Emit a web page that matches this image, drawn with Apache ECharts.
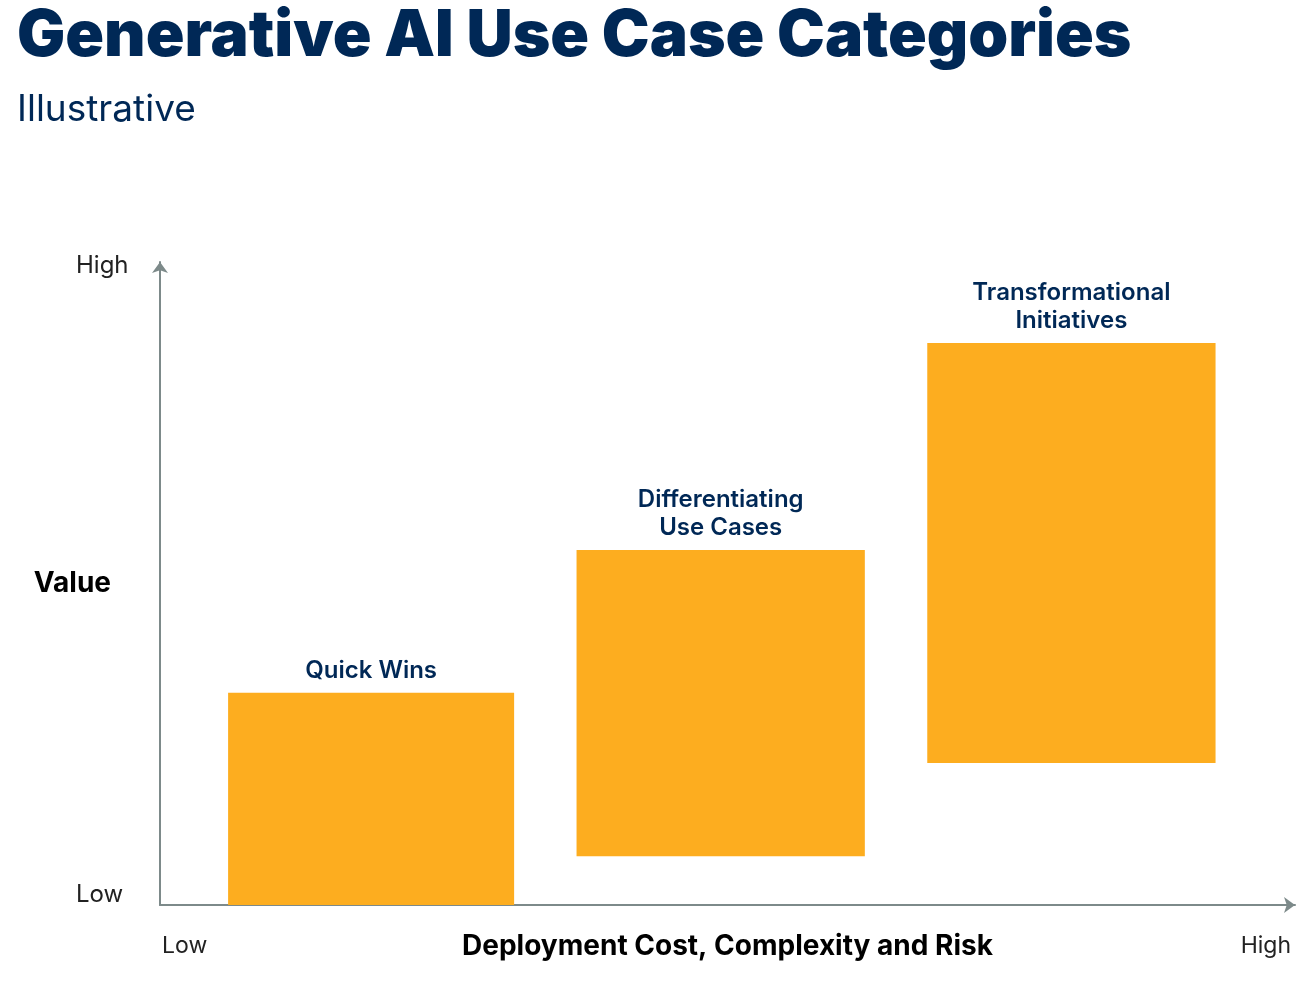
<!DOCTYPE html>
<html>
<head>
<meta charset="utf-8">
<script src="https://cdn.jsdelivr.net/npm/echarts@6/dist/echarts.min.js"></script>
<style>
  html, body { margin: 0; padding: 0; background: #ffffff; }
  #chart { width: 1315px; height: 989px; }
</style>
</head>
<body>
<div id="chart"></div>
<script>
// ---- data (illustrative positions on 0-100 scales) ----
const categories = ['Quick Wins', 'Differentiating\nUse Cases', 'Transformational\nInitiatives'];
const costStart = [6.0, 36.7, 67.6];
const costEnd = [31.2, 62.1, 93.0];
const valueLow = [0, 7.6, 22.1];
const valueHigh = [33.0, 55.2, 87.4];
const tickLabels = ['Low', 'High'];

const NAVY = '#002856';
const BAR = '#FDAD1F';
const AXIS = '#7d8a8a';
const FONT = 'Inter, "Noto Sans", sans-serif';

const chart = echarts.init(document.getElementById('chart'), null, { renderer: 'canvas' });

const seriesData = categories.map((c, i) => [costStart[i], costEnd[i], valueLow[i], valueHigh[i], c]);

const tickStyle = { fontFamily: FONT, fontSize: 24, color: '#222' };

chart.setOption({
  backgroundColor: '#ffffff',
  animation: false,
  title: [
    {
      text: 'Generative AI Use Case Categories',
      left: 12, top: 0,
      textStyle: { fontFamily: FONT, fontSize: 64, fontWeight: 900, color: NAVY }
    },
    {
      text: 'Illustrative',
      left: 12, top: 86,
      textStyle: { fontFamily: FONT, fontSize: 37, fontWeight: 400, color: NAVY }
    }
  ],
  grid: { left: 160, right: 20, top: 262, bottom: 84, containLabel: false },
  xAxis: {
    type: 'value', min: 0, max: 100, interval: 100,
    name: 'Deployment Cost, Complexity and Risk',
    nameLocation: 'middle', nameGap: 28, nameMoveOverlap: false,
    nameTextStyle: { fontFamily: FONT, fontSize: 28, fontWeight: 700, color: '#000' },
    axisLine: { show: true, lineStyle: { color: AXIS, width: 2 }, symbol: ['none', 'arrow'], symbolSize: [12, 11] },
    axisTick: { show: false },
    splitLine: { show: false },
    axisLabel: {
      show: true, margin: 30,
      fontFamily: FONT, fontSize: 23, color: '#222',
      alignMinLabel: 'left', alignMaxLabel: 'right',
      formatter: v => (v === 0 ? '{lo|' + tickLabels[0] + '}' : '{hi|' + tickLabels[1] + '}'),
      rich: {
        lo: Object.assign({ padding: [0, 0, 0, 2] }, tickStyle, { fontSize: 23 }),
        hi: Object.assign({ padding: [0, 4, 0, 0] }, tickStyle, { fontSize: 23 })
      }
    }
  },
  yAxis: {
    type: 'value', min: 0, max: 100, interval: 100,
    name: 'Value',
    nameLocation: 'middle', nameGap: 49, nameRotate: 0, nameMoveOverlap: false,
    nameTextStyle: { fontFamily: FONT, fontSize: 28, fontWeight: 700, color: '#000' },
    axisLine: { show: true, lineStyle: { color: AXIS, width: 2 }, symbol: ['none', 'arrow'], symbolSize: [12, 11] },
    axisTick: { show: false },
    splitLine: { show: false },
    axisLabel: {
      show: true, margin: 84, align: 'left', verticalAlign: 'middle',
      fontFamily: FONT, fontSize: 24, color: '#222',
      formatter: v => (v === 0 ? '{lo|' + tickLabels[0] + '}' : '{hi|' + tickLabels[1] + '}'),
      rich: {
        lo: Object.assign({ padding: [0, 0, 20, 0] }, tickStyle),
        hi: Object.assign({ padding: [7, 0, 0, 0] }, tickStyle)
      }
    }
  },
  series: [{
    type: 'custom',
    data: seriesData,
    encode: { x: [0, 1], y: [2, 3] },
    renderItem: function (params, api) {
      const p0 = api.coord([api.value(0), api.value(3)]);
      const p1 = api.coord([api.value(1), api.value(2)]);
      const name = categories[params.dataIndex];
      return {
        type: 'group',
        children: [
          {
            type: 'rect',
            shape: { x: p0[0], y: p0[1], width: p1[0] - p0[0], height: p1[1] - p0[1] },
            style: { fill: BAR }
          },
          {
            type: 'text',
            x: (p0[0] + p1[0]) / 2,
            y: p0[1] - 8,
            style: {
              text: name,
              fill: NAVY,
              font: '600 24px ' + FONT,
              align: 'center',
              verticalAlign: 'bottom',
              lineHeight: 28
            }
          }
        ]
      };
    }
  }]
});
</script>
</body>
</html>
